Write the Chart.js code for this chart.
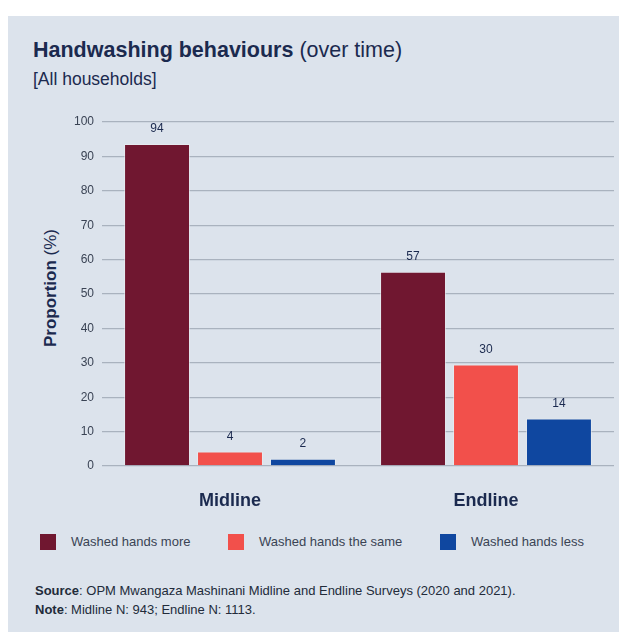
<!DOCTYPE html>
<html>
<head>
<meta charset="utf-8">
<script src="https://cdn.jsdelivr.net/npm/chart.js@4.4.0/dist/chart.umd.min.js"></script>
<style>
  body { margin: 0; background: #fff; font-family: "Liberation Sans", Arial, sans-serif; }
  .abs { position: absolute; white-space: nowrap; }
  #panel { left: 8px; top: 16px; width: 611px; height: 616px; background: #dce3ec; }
  #title { left: 33px; top: 39px; font-size: 21.5px; line-height: 22px; color: #1b2a4f; }
  #subtitle { left: 33px; top: 70px; font-size: 17.5px; line-height: 18px; color: #1b2a4f; }
  #ytitle { left: 51px; top: 288px; font-size: 17px; color: #1b2a4f;
            transform: translate(-50%, -50%) rotate(-90deg); }
  .sw { width: 16px; height: 16px; top: 534px; }
  .lt { top: 534px; font-size: 13px; line-height: 16px; color: #3a4354; }
  #notes { left: 35px; top: 581px; font-size: 13px; line-height: 19px; color: #222b3a; }
  #wrap { left: 0; top: 0; width: 620px; height: 520px; }
</style>
</head>
<body>
<div id="panel" class="abs"></div>
<div id="title" class="abs"><b>Handwashing behaviours</b> (over time)</div>
<div id="subtitle" class="abs">[All households]</div>
<div id="ytitle" class="abs"><b>Proportion</b> (%)</div>
<div id="legend"></div>
<div id="notes" class="abs"><b>Source</b>: OPM Mwangaza Mashinani Midline and Endline Surveys (2020 and 2021).<br><b>Note</b>: Midline N: 943; Endline N: 1113.</div>
<div id="wrap" class="abs"><canvas id="grafico" width="620" height="520"></canvas></div>
<script>
const categories = ["Midline", "Endline"];
const seriesNames = ["Washed hands more", "Washed hands the same", "Washed hands less"];
const washedMore = [93.6, 56.5];
const washedSame = [4.2, 29.5];
const washedLess = [2.1, 13.8];
const yMin = 0;
const yMax = 100;
const yStep = 10;

const colori = ["#701730", "#f2504b", "#0f47a0"];
const serie = [washedMore, washedSame, washedLess];

// legenda in html
const legendX = [40, 228, 440];
const legend = document.getElementById("legend");
seriesNames.forEach(function (nome, i) {
  const sw = document.createElement("div");
  sw.className = "abs sw";
  sw.style.left = legendX[i] + "px";
  sw.style.background = colori[i];
  legend.appendChild(sw);
  const t = document.createElement("div");
  t.className = "abs lt";
  t.style.left = legendX[i] + 31 + "px";
  t.innerText = nome;
  legend.appendChild(t);
});

const etichetteValori = {
  id: "etichetteValori",
  afterDatasetsDraw(chart) {
    const ctx = chart.ctx;
    ctx.save();
    ctx.font = "12px 'Liberation Sans', Arial, sans-serif";
    ctx.fillStyle = "#1b2a4f";
    ctx.textAlign = "center";
    ctx.textBaseline = "middle";
    chart.data.datasets.forEach(function (ds, i) {
      chart.getDatasetMeta(i).data.forEach(function (bar, j) {
        ctx.fillText(Math.round(ds.data[j]), bar.x, bar.y - 15);
      });
    });
    ctx.restore();
  },
};

const canvas = document.getElementById("grafico");
const grafico = new Chart(canvas, {
  type: "bar",
  data: {
    labels: categories,
    datasets: seriesNames.map(function (nome, i) {
      return {
        label: nome,
        data: serie[i],
        backgroundColor: colori[i],
        borderColor: "rgba(235,238,242,0.6)",
        borderWidth: 1,
        categoryPercentage: 0.855,
        barPercentage: 0.904,
      };
    }),
  },
  options: {
    responsive: false,
    animation: false,
    devicePixelRatio: 1,
    layout: { padding: { top: 122, left: 0, right: 6, bottom: 0 } },
    plugins: {
      legend: { display: false },
      tooltip: { enabled: false },
    },
    scales: {
      x: {
        grid: { display: false, drawTicks: false },
        border: { display: false },
        ticks: {
          padding: 24,
          color: "#1b2a4f",
          font: { family: "'Liberation Sans', Arial, sans-serif", size: 18, weight: "bold" },
        },
        afterFit: function (scale) { scale.height = 54; },
      },
      y: {
        min: yMin,
        max: yMax,
        grid: { color: "#a9b2be", lineWidth: 1.3, drawTicks: false },
        border: { display: false },
        ticks: {
          stepSize: yStep,
          padding: 8,
          color: "#3a4354",
          font: { family: "'Liberation Sans', Arial, sans-serif", size: 12 },
        },
        afterFit: function (scale) { scale.width = 102; },
      },
    },
  },
  plugins: [etichetteValori],
});
</script>
</body>
</html>
